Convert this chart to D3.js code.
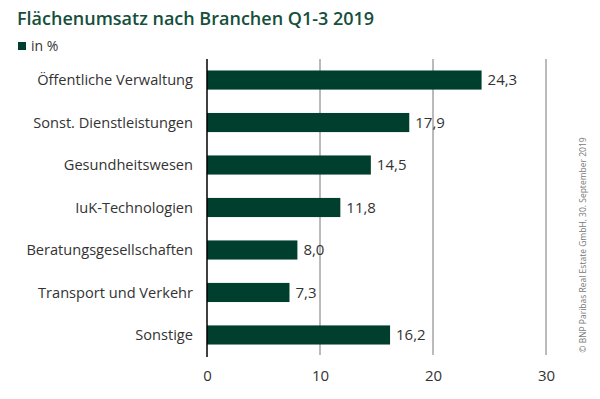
<!DOCTYPE html>
<html>
<head>
<meta charset="utf-8">
<script src="https://cdn.jsdelivr.net/npm/d3@7"></script>
<style>
  body { margin: 0; background: #fff; }
  text { font-family: "Open Sans", "Noto Sans", sans-serif; }
</style>
</head>
<body>
<div id="chart"></div>
<script>
// Chart data
var categories = ["Öffentliche Verwaltung", "Sonst. Dienstleistungen", "Gesundheitswesen",
    "IuK-Technologien", "Beratungsgesellschaften", "Transport und Verkehr", "Sonstige"];
var values = [24.3, 17.9, 14.5, 11.8, 8.0, 7.3, 16.2];
var tickValues = [0, 10, 20, 30];

var svgWidth = 600;
var svgHeight = 399;
var green = "#003f2d";

var svg = d3.select("#chart")
    .append("svg")
    .attr("width", svgWidth)
    .attr("height", svgHeight);

var x = d3.scaleLinear().domain([0, 30]).range([207, 546]);
var y = d3.scaleBand().domain(categories).range([59, 356])
    .paddingInner(0.55).paddingOuter(0.27);

// Title and legend
svg.append("text")
    .attr("x", 17)
    .attr("y", 25)
    .attr("fill", "#15503c")
    .style("font-size", "18px")
    .style("font-weight", "600")
    .text("Flächenumsatz nach Branchen Q1-3 2019");

svg.append("rect")
    .attr("x", 18).attr("y", 42)
    .attr("width", 8).attr("height", 8)
    .attr("fill", green);

svg.append("text")
    .attr("x", 31)
    .attr("y", 51)
    .attr("fill", "#333")
    .style("font-size", "14px")
    .text("in %");

// Grid lines
svg.append("g")
    .selectAll("line")
    .data(tickValues.slice(1))
    .enter()
    .append("line")
    .attr("x1", d => x(d)).attr("x2", d => x(d))
    .attr("y1", 59).attr("y2", 355)
    .attr("stroke", "#777")
    .attr("stroke-width", 1);

// Bars
svg.append("g")
    .selectAll("rect")
    .data(values)
    .enter()
    .append("rect")
    .attr("x", x(0))
    .attr("y", (d, i) => y(categories[i]))
    .attr("width", d => x(d) - x(0))
    .attr("height", y.bandwidth())
    .attr("fill", green);

// Value labels
svg.append("g")
    .selectAll("text")
    .data(values)
    .enter()
    .append("text")
    .attr("x", d => x(d) + 6)
    .attr("y", (d, i) => y(categories[i]) + y.bandwidth() / 2)
    .attr("dy", "0.35em")
    .attr("fill", "#333")
    .style("font-size", "15px")
    .text(d => d.toFixed(1).replace(".", ","));

// Category labels
svg.append("g")
    .selectAll("text")
    .data(categories)
    .enter()
    .append("text")
    .attr("x", 193)
    .attr("y", d => y(d) + y.bandwidth() / 2)
    .attr("dy", "0.35em")
    .attr("text-anchor", "end")
    .attr("fill", "#333")
    .style("font-size", "14.6px")
    .text(d => d);

// Zero axis line
svg.append("line")
    .attr("x1", x(0)).attr("x2", x(0))
    .attr("y1", 59).attr("y2", 357)
    .attr("stroke", "#000")
    .attr("stroke-width", 1.5);

// X axis labels
var xAxis = d3.axisBottom(x).tickValues(tickValues).tickSize(0).tickPadding(0);
var axisG = svg.append("g")
    .attr("transform", "translate(0, 370)")
    .call(xAxis);
axisG.select(".domain").remove();
axisG.selectAll("text")
    .attr("fill", "#333")
    .style("font-size", "15px");

// Source note
svg.append("text")
    .attr("transform", "translate(586, 245) rotate(-90)")
    .attr("text-anchor", "middle")
    .attr("fill", "#777")
    .style("font-size", "8.5px")
    .text("© BNP Paribas Real Estate GmbH, 30. September 2019");
</script>
</body>
</html>
